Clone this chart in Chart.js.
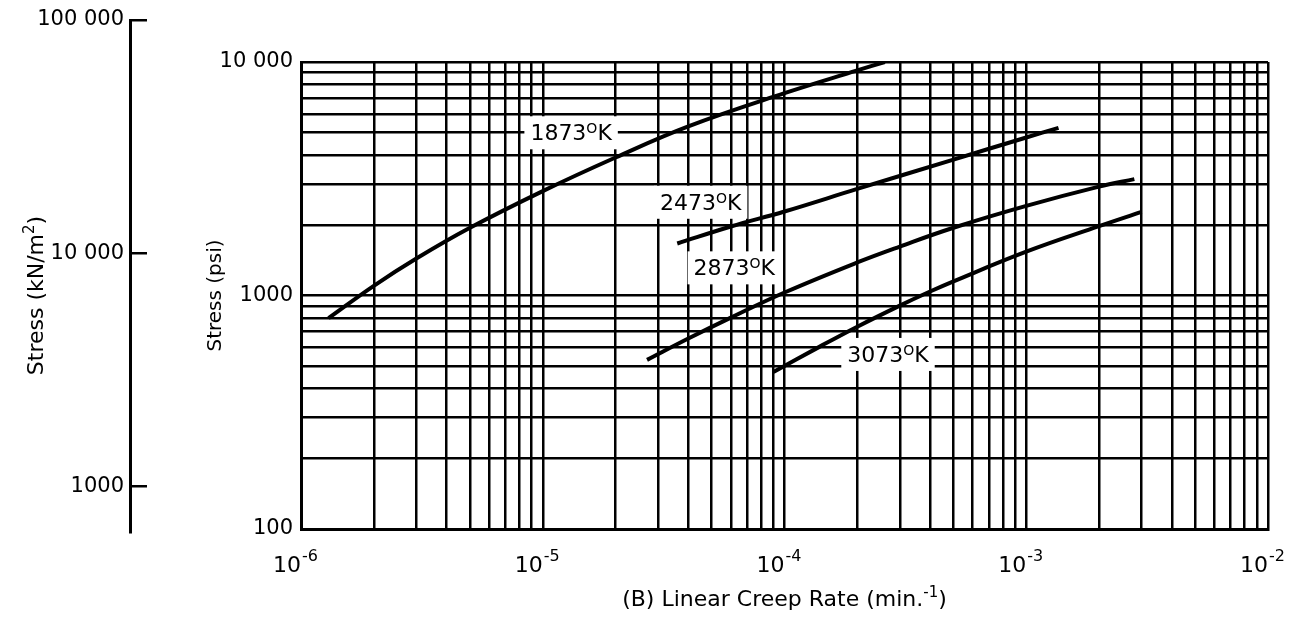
<!DOCTYPE html>
<html>
<head>
<meta charset="utf-8">
<script src="https://cdn.jsdelivr.net/npm/chart.js@4/dist/chart.umd.min.js"></script>
<style>
  html, body { margin: 0; padding: 0; background: #fff; }
  #wrap { position: relative; width: 1306px; height: 626px; }
  #wrap canvas { position: absolute; left: 0; top: 0; }
</style>
</head>
<body>
<div id="wrap">
  <canvas id="main" width="1306" height="626"></canvas>
  <canvas id="kn" width="200" height="626"></canvas>
</div>
<script>
// Linear creep rate (min^-1) against stress (psi) for each isotherm
const rate1873   = [1.3e-6, 2e-6, 3e-6, 5e-6, 1e-5, 2e-5, 4e-5, 1e-4, 2e-4, 2.6e-4];
const stress1873 = [800, 1100, 1440, 1950, 2800, 3900, 5300, 7350, 9200, 10000];

const rate2473   = [3.6e-5, 6e-5, 1e-4, 2e-4, 5e-4, 1e-3, 1.36e-3];
const stress2473 = [1670, 1975, 2290, 2860, 3820, 4750, 5220];

const rate2873   = [2.7e-5, 4e-5, 6e-5, 1e-4, 2e-4, 3e-4, 5e-4, 1e-3, 2e-3, 2.8e-3];
const stress2873 = [530, 654, 804, 1030, 1385, 1620, 1950, 2420, 2925, 3150];

const rate3073   = [9e-5, 1.4e-4, 2e-4, 3e-4, 4e-4, 5e-4, 1e-3, 2e-3, 3e-3];
const stress3073 = [470, 604, 735, 905, 1040, 1150, 1540, 1980, 2280];

// Curve captions (temperature, K) and where they sit
const captionTemps  = ['1873', '2473', '2873', '3073'];
const captionRates  = [1.31e-5, 4.5e-5, 6.2e-5, 2.68e-4];
const captionStress = [5000, 2520, 1320, 562];

// Log grid: decades and the 1..9 subdivisions inside each
const rateDecadeExps   = [-6, -5, -4, -3, -2];
const stressDecadeExps = [2, 3, 4];
const subdivisions     = [1, 2, 3, 4, 5, 6, 7, 8, 9];

// Secondary stress scale in kN/m^2
const knTicks = [1000, 10000, 100000];
const knMin = 637, knMax = 100000;

const INK = '#000';
const FAMILY = "'DejaVu Sans', sans-serif";

function logGrid(exps) {
  const vals = [];
  for (let i = 0; i < exps.length - 1; i++) {
    for (const m of subdivisions) vals.push(m * Math.pow(10, exps[i]));
  }
  vals.push(Math.pow(10, exps[exps.length - 1]));
  return vals;
}
const rateGrid = logGrid(rateDecadeExps);
const stressGrid = logGrid(stressDecadeExps);

function groupThousands(v) {
  const s = String(Math.round(v));
  return v < 10000 ? s : s.replace(/\B(?=(\d{3})+(?!\d))/g, ' ');
}
function isDecade(v) {
  const e = Math.log10(v);
  return Math.abs(e - Math.round(e)) < 1e-9;
}

// Draws a run of text pieces, some raised as superscripts, starting at x=0 on baseline y=0
function richWidth(ctx, parts) {
  let w = 0;
  for (const p of parts) { ctx.font = p.font; w += ctx.measureText(p.text).width; }
  return w;
}
function drawRich(ctx, parts, x, y) {
  let cx = x;
  for (const p of parts) {
    ctx.font = p.font;
    ctx.fillText(p.text, cx, y - (p.rise || 0));
    cx += ctx.measureText(p.text).width;
  }
}

const series = [
  [rate1873, stress1873],
  [rate2473, stress2473],
  [rate2873, stress2873],
  [rate3073, stress3073]
];

// "10" sits left of each decade line, the exponent raised to its right
const decadeLabels = {
  id: 'decadeLabels',
  afterDraw(chart) {
    const { ctx } = chart;
    const xs = chart.scales.x;
    ctx.save();
    ctx.fillStyle = INK;
    ctx.textBaseline = 'alphabetic';
    for (const e of rateDecadeExps) {
      const px = xs.getPixelForValue(Math.pow(10, e));
      ctx.font = `22px ${FAMILY}`;
      ctx.textAlign = 'right';
      ctx.fillText('10', px, 572);
      ctx.font = `16px ${FAMILY}`;
      ctx.textAlign = 'left';
      ctx.fillText(String(e), px + 1, 561);
    }
    ctx.restore();
  }
};

// Axis titles that carry superscripts
const richTitles = {
  id: 'richTitles',
  afterDraw(chart) {
    const { ctx, chartArea } = chart;
    const big = `22px ${FAMILY}`, sup = `15px ${FAMILY}`;
    ctx.save();
    ctx.fillStyle = INK;
    ctx.textAlign = 'left';
    ctx.textBaseline = 'alphabetic';

    const xTitle = [
      { text: '(B) Linear Creep Rate (min.', font: big },
      { text: '-1', font: sup, rise: 9 },
      { text: ')', font: big }
    ];
    const wx = richWidth(ctx, xTitle);
    drawRich(ctx, xTitle, (chartArea.left + chartArea.right) / 2 - wx / 2, 606);

    const kTitle = [
      { text: 'Stress (kN/m', font: big },
      { text: '2', font: sup, rise: 9 },
      { text: ')', font: big }
    ];
    const wk = richWidth(ctx, kTitle);
    ctx.translate(43, (chartArea.top + chartArea.bottom) / 2);
    ctx.rotate(-Math.PI / 2);
    drawRich(ctx, kTitle, -wk / 2, 0);
    ctx.restore();
  }
};

// Temperature captions on white boxes over the grid
const curveCaptions = {
  id: 'curveCaptions',
  afterDatasetsDraw(chart) {
    const { ctx } = chart;
    const xs = chart.scales.x, ys = chart.scales.y;
    const big = `22px ${FAMILY}`, small = `14px ${FAMILY}`;
    ctx.save();
    captionTemps.forEach((t, i) => {
      const cx = xs.getPixelForValue(captionRates[i]);
      const cy = ys.getPixelForValue(captionStress[i]);
      const parts = [
        { text: t, font: big },
        { text: 'O', font: small, rise: 7 },
        { text: ' K'.trim(), font: big }
      ];
      const w = richWidth(ctx, parts);
      const left = cx - w / 2;
      ctx.fillStyle = '#fff';
      ctx.fillRect(left - 6, cy - 16, w + 12, 33);
      ctx.fillStyle = INK;
      ctx.textAlign = 'left';
      ctx.textBaseline = 'alphabetic';
      drawRich(ctx, parts, left, cy + 8);
    });
    ctx.restore();
  }
};

new Chart(document.getElementById('main'), {
  type: 'line',
  data: {
    datasets: series.map(([r, s]) => ({
      data: r.map((v, i) => ({ x: v, y: s[i] })),
      borderColor: INK,
      borderWidth: 4,
      pointRadius: 0,
      fill: false,
      tension: 0.4
    }))
  },
  options: {
    responsive: false,
    animation: false,
    layout: { padding: { left: 0, top: 62, right: 38, bottom: 0 } },
    plugins: { legend: { display: false }, tooltip: { enabled: false } },
    scales: {
      x: {
        type: 'logarithmic',
        min: 1e-6,
        max: 1e-2,
        afterBuildTicks: (s) => { s.ticks = rateGrid.map(v => ({ value: v })); },
        afterFit: (s) => { s.height = 97; },
        ticks: { autoSkip: false, maxRotation: 0, callback: () => '' },
        grid: { color: INK, lineWidth: 2.5, drawTicks: false },
        border: { color: INK, width: 3 }
      },
      y: {
        type: 'logarithmic',
        position: 'left',
        weight: 0,
        min: 100,
        max: 10000,
        afterBuildTicks: (s) => { s.ticks = stressGrid.map(v => ({ value: v })); },
        afterFit: (s) => { s.width = 131; },
        ticks: {
          autoSkip: false,
          padding: 8,
          color: INK,
          font: { family: FAMILY, size: 21 },
          callback: (v) => isDecade(v) ? groupThousands(v) : ''
        },
        grid: { color: INK, lineWidth: 2.5, drawTicks: false },
        border: { color: INK, width: 3 },
        title: {
          display: true,
          text: 'Stress (psi)',
          color: INK,
          font: { family: FAMILY, size: 20 },
          padding: { top: 34, bottom: 0 }
        }
      },
      yKn: {
        type: 'linear',
        position: 'left',
        weight: 1,
        afterFit: (s) => { s.width = 170; },
        ticks: { display: false },
        grid: { display: false, drawTicks: false },
        border: { display: false }
      }
    }
  },
  plugins: [decadeLabels, richTitles, curveCaptions]
});

new Chart(document.getElementById('kn'), {
  type: 'line',
  data: { datasets: [] },
  options: {
    responsive: false,
    animation: false,
    layout: { padding: { left: 0, top: 20, right: 53, bottom: 94 } },
    plugins: { legend: { display: false }, tooltip: { enabled: false } },
    scales: {
      x: { type: 'linear', display: false },
      y: {
        type: 'logarithmic',
        position: 'left',
        min: knMin,
        max: knMax,
        afterBuildTicks: (s) => { s.ticks = knTicks.map(v => ({ value: v })); },
        afterFit: (s) => { s.width = 130; },
        ticks: {
          autoSkip: false,
          padding: 6,
          color: INK,
          font: { family: FAMILY, size: 21 },
          callback: (v) => groupThousands(v)
        },
        grid: { color: INK, lineWidth: 2.5, drawTicks: false },
        border: { color: INK, width: 3 }
      }
    }
  }
});
</script>
</body>
</html>
